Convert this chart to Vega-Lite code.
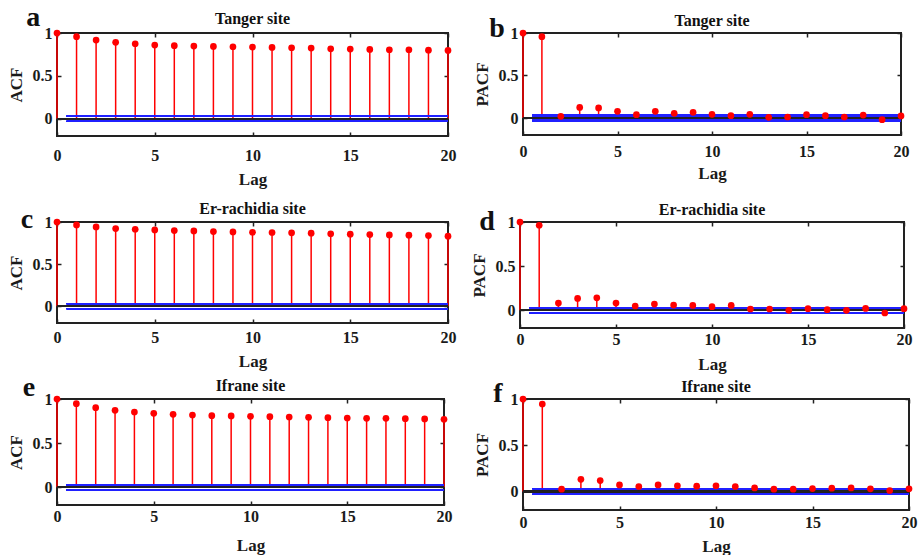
{
  "$schema": "https://vega.github.io/schema/vega-lite/v6.json",
  "background": "white",
  "padding": {"left": 6, "top": 2, "right": 5, "bottom": 0},
  "spacing": -1,
  "config": {
    "view": {"stroke": "#222", "strokeWidth": 2},
    "axis": {
      "labelFont": "Liberation Serif", "labelFontWeight": "bold", "labelFontSize": 16, "labelColor": "#1a1a1a",
      "titleFont": "Liberation Serif", "titleFontWeight": "bold", "titleFontSize": 17, "titleColor": "#1a1a1a",
      "domain": false, "grid": false, "tickColor": "#222", "tickSize": -4, "tickWidth": 1.5,
      "labelFlush": false, "labelOverlap": false
    },
    "text": {"font": "Liberation Serif", "fontWeight": "bold", "color": "#111", "align": "center", "baseline": "alphabetic"}
  },
  "datasets": {
    "tanger_acf": [
      {"lag":0,"value":1},{"lag":1,"value":0.957},{"lag":2,"value":0.918},{"lag":3,"value":0.891},{"lag":4,"value":0.875},
      {"lag":5,"value":0.859},{"lag":6,"value":0.852},{"lag":7,"value":0.848},{"lag":8,"value":0.844},{"lag":9,"value":0.840},
      {"lag":10,"value":0.836},{"lag":11,"value":0.832},{"lag":12,"value":0.828},{"lag":13,"value":0.824},{"lag":14,"value":0.816},
      {"lag":15,"value":0.8125},{"lag":16,"value":0.809},{"lag":17,"value":0.805},{"lag":18,"value":0.805},{"lag":19,"value":0.800},{"lag":20,"value":0.797}
    ],
    "tanger_pacf": [
      {"lag":0,"value":1},{"lag":1,"value":0.957},{"lag":2,"value":0.02},{"lag":3,"value":0.125},{"lag":4,"value":0.118},
      {"lag":5,"value":0.078},{"lag":6,"value":0.039},{"lag":7,"value":0.078},{"lag":8,"value":0.055},{"lag":9,"value":0.067},
      {"lag":10,"value":0.043},{"lag":11,"value":0.027},{"lag":12,"value":0.043},{"lag":13,"value":0.008},{"lag":14,"value":0.012},
      {"lag":15,"value":0.039},{"lag":16,"value":0.027},{"lag":17,"value":0.012},{"lag":18,"value":0.035},{"lag":19,"value":-0.02},{"lag":20,"value":0.024}
    ],
    "errachidia_acf": [
      {"lag":0,"value":1},{"lag":1,"value":0.965},{"lag":2,"value":0.941},{"lag":3,"value":0.922},{"lag":4,"value":0.914},
      {"lag":5,"value":0.906},{"lag":6,"value":0.898},{"lag":7,"value":0.894},{"lag":8,"value":0.886},{"lag":9,"value":0.882},
      {"lag":10,"value":0.878},{"lag":11,"value":0.875},{"lag":12,"value":0.871},{"lag":13,"value":0.867},{"lag":14,"value":0.859},
      {"lag":15,"value":0.855},{"lag":16,"value":0.851},{"lag":17,"value":0.847},{"lag":18,"value":0.843},{"lag":19,"value":0.839},{"lag":20,"value":0.831}
    ],
    "errachidia_pacf": [
      {"lag":0,"value":1},{"lag":1,"value":0.963},{"lag":2,"value":0.082},{"lag":3,"value":0.135},{"lag":4,"value":0.142},
      {"lag":5,"value":0.082},{"lag":6,"value":0.049},{"lag":7,"value":0.071},{"lag":8,"value":0.06},{"lag":9,"value":0.056},
      {"lag":10,"value":0.041},{"lag":11,"value":0.056},{"lag":12,"value":0.015},{"lag":13,"value":0.015},{"lag":14,"value":0.0},
      {"lag":15,"value":0.019},{"lag":16,"value":0.007},{"lag":17,"value":0.0},{"lag":18,"value":0.022},{"lag":19,"value":-0.03},{"lag":20,"value":0.019}
    ],
    "ifrane_acf": [
      {"lag":0,"value":1},{"lag":1,"value":0.947},{"lag":2,"value":0.902},{"lag":3,"value":0.872},{"lag":4,"value":0.853},
      {"lag":5,"value":0.838},{"lag":6,"value":0.826},{"lag":7,"value":0.819},{"lag":8,"value":0.811},{"lag":9,"value":0.808},
      {"lag":10,"value":0.804},{"lag":11,"value":0.800},{"lag":12,"value":0.796},{"lag":13,"value":0.792},{"lag":14,"value":0.789},
      {"lag":15,"value":0.785},{"lag":16,"value":0.781},{"lag":17,"value":0.781},{"lag":18,"value":0.777},{"lag":19,"value":0.774},{"lag":20,"value":0.770}
    ],
    "ifrane_pacf": [
      {"lag":0,"value":1},{"lag":1,"value":0.946},{"lag":2,"value":0.025},{"lag":3,"value":0.132},{"lag":4,"value":0.118},
      {"lag":5,"value":0.071},{"lag":6,"value":0.054},{"lag":7,"value":0.071},{"lag":8,"value":0.061},{"lag":9,"value":0.057},
      {"lag":10,"value":0.061},{"lag":11,"value":0.054},{"lag":12,"value":0.039},{"lag":13,"value":0.025},{"lag":14,"value":0.025},
      {"lag":15,"value":0.032},{"lag":16,"value":0.036},{"lag":17,"value":0.039},{"lag":18,"value":0.029},{"lag":19,"value":0.011},{"lag":20,"value":0.029}
    ],
    "one": [{"k": 1}]
  },
  "vconcat": [
    {
      "spacing": 11,
      "vconcat": [
        {
          "spacing": 15,
          "hconcat": [
            {
              "width": 391, "height": 103,
              "data": {"name": "tanger_acf"},
              "resolve": {"axis": {"x": "independent", "y": "independent"}},
              "layer": [
                {"mark": {"type": "rule", "color": "#ff0000", "strokeWidth": 1.5},
                 "encoding": {
                   "x": {"field": "lag", "type": "quantitative", "scale": {"domain": [0, 20], "nice": false},
                         "axis": {"orient": "bottom", "values": [0, 5, 10, 15, 20], "title": "Lag", "labelPadding": 15, "titlePadding": 8}},
                   "y": {"field": "value", "type": "quantitative", "scale": {"domain": [-0.2, 1], "nice": false, "zero": false},
                         "axis": {"orient": "left", "values": [0, 0.5, 1], "format": "~g", "title": "ACF", "labelPadding": 9, "titlePadding": 7}},
                   "y2": {"datum": 0}}},
                {"mark": {"type": "rule", "color": "#222", "strokeWidth": 1.3},
                 "encoding": {"y": {"datum": 0, "type": "quantitative", "axis": null}}},
                {"mark": {"type": "rule", "color": "#2020ff", "strokeWidth": 1.4},
                 "encoding": {"x": {"datum": 0.5, "type": "quantitative", "axis": null}, "x2": {"datum": 20}, "y": {"datum": 0.03, "type": "quantitative", "axis": null}}},
                {"mark": {"type": "rule", "color": "#2020ff", "strokeWidth": 1.4},
                 "encoding": {"x": {"datum": 0.5, "type": "quantitative", "axis": null}, "x2": {"datum": 20}, "y": {"datum": -0.03, "type": "quantitative", "axis": null}}},
                {"mark": {"type": "point", "filled": true, "color": "#ff0000", "opacity": 1, "size": 45},
                 "encoding": {
                   "x": {"field": "lag", "type": "quantitative", "axis": {"orient": "top", "values": [0, 5, 10, 15, 20], "labels": false, "title": null}},
                   "y": {"field": "value", "type": "quantitative", "axis": {"orient": "right", "values": [0, 0.5, 1], "labels": false, "title": null}}}},
                {"data": {"name": "one"},
                 "mark": {"type": "text", "text": "Tanger site", "fontSize": 16},
                 "encoding": {"x": {"datum": 10, "type": "quantitative", "axis": null}, "y": {"datum": 1.105, "type": "quantitative", "axis": null}}},
                {"data": {"name": "one"},
                 "mark": {"type": "text", "text": "a", "fontSize": 28},
                 "encoding": {"x": {"datum": -1.22, "type": "quantitative", "axis": null}, "y": {"datum": 1.085, "type": "quantitative", "axis": null}}}
              ]
            },
            {
              "width": 378, "height": 102,
              "data": {"name": "tanger_pacf"},
              "resolve": {"axis": {"x": "independent", "y": "independent"}},
              "layer": [
                {"mark": {"type": "rule", "color": "#ff0000", "strokeWidth": 1.5},
                 "encoding": {
                   "x": {"field": "lag", "type": "quantitative", "scale": {"domain": [0, 20], "nice": false},
                         "axis": {"orient": "bottom", "values": [0, 5, 10, 15, 20], "title": "Lag", "labelPadding": 12, "titlePadding": 6}},
                   "y": {"field": "value", "type": "quantitative", "scale": {"domain": [-0.2, 1], "nice": false, "zero": false},
                         "axis": {"orient": "left", "values": [0, 0.5, 1], "format": "~g", "title": "PACF", "labelPadding": 9, "titlePadding": 7}},
                   "y2": {"datum": 0}}},
                {"mark": {"type": "rule", "color": "#222", "strokeWidth": 1.3},
                 "encoding": {"y": {"datum": 0, "type": "quantitative", "axis": null}}},
                {"mark": {"type": "rule", "color": "#2020ff", "strokeWidth": 1.4},
                 "encoding": {"x": {"datum": 0.5, "type": "quantitative", "axis": null}, "x2": {"datum": 20}, "y": {"datum": 0.03, "type": "quantitative", "axis": null}}},
                {"mark": {"type": "rule", "color": "#2020ff", "strokeWidth": 1.4},
                 "encoding": {"x": {"datum": 0.5, "type": "quantitative", "axis": null}, "x2": {"datum": 20}, "y": {"datum": -0.03, "type": "quantitative", "axis": null}}},
                {"mark": {"type": "point", "filled": true, "color": "#ff0000", "opacity": 1, "size": 45},
                 "encoding": {
                   "x": {"field": "lag", "type": "quantitative", "axis": {"orient": "top", "values": [0, 5, 10, 15, 20], "labels": false, "title": null}},
                   "y": {"field": "value", "type": "quantitative", "axis": {"orient": "right", "values": [0, 0.5, 1], "labels": false, "title": null}}}},
                {"data": {"name": "one"},
                 "mark": {"type": "text", "text": "Tanger site", "fontSize": 16},
                 "encoding": {"x": {"datum": 10, "type": "quantitative", "axis": null}, "y": {"datum": 1.087, "type": "quantitative", "axis": null}}},
                {"data": {"name": "one"},
                 "mark": {"type": "text", "text": "b", "fontSize": 28},
                 "encoding": {"x": {"datum": -1.38, "type": "quantitative", "axis": null}, "y": {"datum": 0.95, "type": "quantitative", "axis": null}}}
              ]
            }
          ]
        },
        {
          "spacing": 12,
          "hconcat": [
            {
              "width": 391, "height": 101,
              "data": {"name": "errachidia_acf"},
              "resolve": {"axis": {"x": "independent", "y": "independent"}},
              "layer": [
                {"mark": {"type": "rule", "color": "#ff0000", "strokeWidth": 1.5},
                 "encoding": {
                   "x": {"field": "lag", "type": "quantitative", "scale": {"domain": [0, 20], "nice": false},
                         "axis": {"orient": "bottom", "values": [0, 5, 10, 15, 20], "title": "Lag", "labelPadding": 10, "titlePadding": 8}},
                   "y": {"field": "value", "type": "quantitative", "scale": {"domain": [-0.2, 1], "nice": false, "zero": false},
                         "axis": {"orient": "left", "values": [0, 0.5, 1], "format": "~g", "title": "ACF", "labelPadding": 9, "titlePadding": 7}},
                   "y2": {"datum": 0}}},
                {"mark": {"type": "rule", "color": "#222", "strokeWidth": 1.3},
                 "encoding": {"y": {"datum": 0, "type": "quantitative", "axis": null}}},
                {"mark": {"type": "rule", "color": "#2020ff", "strokeWidth": 1.2},
                 "encoding": {"x": {"datum": 0.5, "type": "quantitative", "axis": null}, "x2": {"datum": 20}, "y": {"datum": 0.03, "type": "quantitative", "axis": null}}},
                {"mark": {"type": "rule", "color": "#2020ff", "strokeWidth": 1.2},
                 "encoding": {"x": {"datum": 0.5, "type": "quantitative", "axis": null}, "x2": {"datum": 20}, "y": {"datum": -0.03, "type": "quantitative", "axis": null}}},
                {"mark": {"type": "point", "filled": true, "color": "#ff0000", "opacity": 1, "size": 45},
                 "encoding": {
                   "x": {"field": "lag", "type": "quantitative", "axis": {"orient": "top", "values": [0, 5, 10, 15, 20], "labels": false, "title": null}},
                   "y": {"field": "value", "type": "quantitative", "axis": {"orient": "right", "values": [0, 0.5, 1], "labels": false, "title": null}}}},
                {"data": {"name": "one"},
                 "mark": {"type": "text", "text": "Er-rachidia site", "fontSize": 16},
                 "encoding": {"x": {"datum": 10, "type": "quantitative", "axis": null}, "y": {"datum": 1.099, "type": "quantitative", "axis": null}}},
                {"data": {"name": "one"},
                 "mark": {"type": "text", "text": "c", "fontSize": 28},
                 "encoding": {"x": {"datum": -1.53, "type": "quantitative", "axis": null}, "y": {"datum": 0.926, "type": "quantitative", "axis": null}}}
              ]
            },
            {
              "width": 384, "height": 106,
              "data": {"name": "errachidia_pacf"},
              "resolve": {"axis": {"x": "independent", "y": "independent"}},
              "layer": [
                {"mark": {"type": "rule", "color": "#ff0000", "strokeWidth": 1.5},
                 "encoding": {
                   "x": {"field": "lag", "type": "quantitative", "scale": {"domain": [0, 20], "nice": false},
                         "axis": {"orient": "bottom", "values": [0, 5, 10, 15, 20], "title": "Lag", "labelPadding": 7, "titlePadding": 9}},
                   "y": {"field": "value", "type": "quantitative", "scale": {"domain": [-0.2, 1], "nice": false, "zero": false},
                         "axis": {"orient": "left", "values": [0, 0.5, 1], "format": "~g", "title": "PACF", "labelPadding": 9, "titlePadding": 7}},
                   "y2": {"datum": 0}}},
                {"mark": {"type": "rule", "color": "#222", "strokeWidth": 1.3},
                 "encoding": {"y": {"datum": 0, "type": "quantitative", "axis": null}}},
                {"mark": {"type": "rule", "color": "#2020ff", "strokeWidth": 1.2},
                 "encoding": {"x": {"datum": 0.5, "type": "quantitative", "axis": null}, "x2": {"datum": 20}, "y": {"datum": 0.03, "type": "quantitative", "axis": null}}},
                {"mark": {"type": "rule", "color": "#2020ff", "strokeWidth": 1.2},
                 "encoding": {"x": {"datum": 0.5, "type": "quantitative", "axis": null}, "x2": {"datum": 20}, "y": {"datum": -0.03, "type": "quantitative", "axis": null}}},
                {"mark": {"type": "point", "filled": true, "color": "#ff0000", "opacity": 1, "size": 45},
                 "encoding": {
                   "x": {"field": "lag", "type": "quantitative", "axis": {"orient": "top", "values": [0, 5, 10, 15, 20], "labels": false, "title": null}},
                   "y": {"field": "value", "type": "quantitative", "axis": {"orient": "right", "values": [0, 0.5, 1], "labels": false, "title": null}}}},
                {"data": {"name": "one"},
                 "mark": {"type": "text", "text": "Er-rachidia site", "fontSize": 16},
                 "encoding": {"x": {"datum": 10, "type": "quantitative", "axis": null}, "y": {"datum": 1.075, "type": "quantitative", "axis": null}}},
                {"data": {"name": "one"},
                 "mark": {"type": "text", "text": "d", "fontSize": 28},
                 "encoding": {"x": {"datum": -1.72, "type": "quantitative", "axis": null}, "y": {"datum": 0.907, "type": "quantitative", "axis": null}}}
              ]
            }
          ]
        }
      ]
    },
    {
      "spacing": 19,
      "hconcat": [
        {
          "width": 387, "height": 106,
          "data": {"name": "ifrane_acf"},
          "resolve": {"axis": {"x": "independent", "y": "independent"}},
          "layer": [
            {"mark": {"type": "rule", "color": "#ff0000", "strokeWidth": 1.5},
             "encoding": {
               "x": {"field": "lag", "type": "quantitative", "scale": {"domain": [0, 20], "nice": false},
                     "axis": {"orient": "bottom", "values": [0, 5, 10, 15, 20], "title": "Lag", "labelPadding": 7, "titlePadding": 13}},
               "y": {"field": "value", "type": "quantitative", "scale": {"domain": [-0.2, 1], "nice": false, "zero": false},
                     "axis": {"orient": "left", "values": [0, 0.5, 1], "format": "~g", "title": "ACF", "labelPadding": 9, "titlePadding": 7}},
               "y2": {"datum": 0}}},
            {"mark": {"type": "rule", "color": "#222", "strokeWidth": 1.3},
             "encoding": {"y": {"datum": 0, "type": "quantitative", "axis": null}}},
            {"mark": {"type": "rule", "color": "#2020ff", "strokeWidth": 1.4},
             "encoding": {"x": {"datum": 0.5, "type": "quantitative", "axis": null}, "x2": {"datum": 20}, "y": {"datum": 0.03, "type": "quantitative", "axis": null}}},
            {"mark": {"type": "rule", "color": "#2020ff", "strokeWidth": 1.4},
             "encoding": {"x": {"datum": 0.5, "type": "quantitative", "axis": null}, "x2": {"datum": 20}, "y": {"datum": -0.03, "type": "quantitative", "axis": null}}},
            {"mark": {"type": "point", "filled": true, "color": "#ff0000", "opacity": 1, "size": 45},
             "encoding": {
               "x": {"field": "lag", "type": "quantitative", "axis": {"orient": "top", "values": [0, 5, 10, 15, 20], "labels": false, "title": null}},
               "y": {"field": "value", "type": "quantitative", "axis": {"orient": "right", "values": [0, 0.5, 1], "labels": false, "title": null}}}},
            {"data": {"name": "one"},
             "mark": {"type": "text", "text": "Ifrane site", "fontSize": 16},
             "encoding": {"x": {"datum": 10, "type": "quantitative", "axis": null}, "y": {"datum": 1.094, "type": "quantitative", "axis": null}}},
            {"data": {"name": "one"},
             "mark": {"type": "text", "text": "e", "fontSize": 28},
             "encoding": {"x": {"datum": -1.45, "type": "quantitative", "axis": null}, "y": {"datum": 1.034, "type": "quantitative", "axis": null}}}
          ]
        },
        {
          "width": 386, "height": 111,
          "data": {"name": "ifrane_pacf"},
          "resolve": {"axis": {"x": "independent", "y": "independent"}},
          "layer": [
            {"mark": {"type": "rule", "color": "#ff0000", "strokeWidth": 1.5},
             "encoding": {
               "x": {"field": "lag", "type": "quantitative", "scale": {"domain": [0, 20], "nice": false},
                     "axis": {"orient": "bottom", "values": [0, 5, 10, 15, 20], "title": "Lag", "labelPadding": 8, "titlePadding": 8}},
               "y": {"field": "value", "type": "quantitative", "scale": {"domain": [-0.2, 1], "nice": false, "zero": false},
                     "axis": {"orient": "left", "values": [0, 0.5, 1], "format": "~g", "title": "PACF", "labelPadding": 9, "titlePadding": 7}},
               "y2": {"datum": 0}}},
            {"mark": {"type": "rule", "color": "#222", "strokeWidth": 1.3},
             "encoding": {"y": {"datum": 0, "type": "quantitative", "axis": null}}},
            {"mark": {"type": "rule", "color": "#2020ff", "strokeWidth": 1.2},
             "encoding": {"x": {"datum": 0.5, "type": "quantitative", "axis": null}, "x2": {"datum": 20}, "y": {"datum": 0.03, "type": "quantitative", "axis": null}}},
            {"mark": {"type": "rule", "color": "#2020ff", "strokeWidth": 1.2},
             "encoding": {"x": {"datum": 0.5, "type": "quantitative", "axis": null}, "x2": {"datum": 20}, "y": {"datum": -0.03, "type": "quantitative", "axis": null}}},
            {"mark": {"type": "point", "filled": true, "color": "#ff0000", "opacity": 1, "size": 45},
             "encoding": {
               "x": {"field": "lag", "type": "quantitative", "axis": {"orient": "top", "values": [0, 5, 10, 15, 20], "labels": false, "title": null}},
               "y": {"field": "value", "type": "quantitative", "axis": {"orient": "right", "values": [0, 0.5, 1], "labels": false, "title": null}}}},
            {"data": {"name": "one"},
             "mark": {"type": "text", "text": "Ifrane site", "fontSize": 16},
             "encoding": {"x": {"datum": 10, "type": "quantitative", "axis": null}, "y": {"datum": 1.072, "type": "quantitative", "axis": null}}},
            {"data": {"name": "one"},
             "mark": {"type": "text", "text": "f", "fontSize": 28},
             "encoding": {"x": {"datum": -1.3, "type": "quantitative", "axis": null}, "y": {"datum": 0.97, "type": "quantitative", "axis": null}}}
          ]
        }
      ]
    }
  ]
}
